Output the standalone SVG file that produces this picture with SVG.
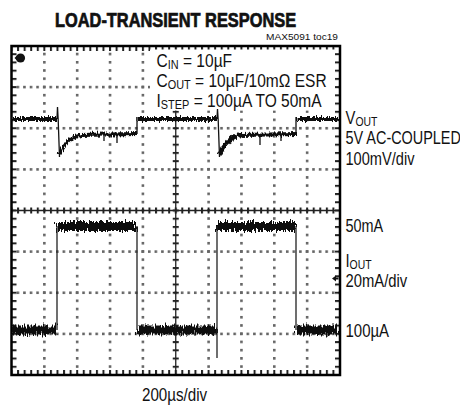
<svg xmlns="http://www.w3.org/2000/svg" width="460" height="406" viewBox="0 0 460 406">
<style>
.t{font-family:"Liberation Sans",Arial,sans-serif;fill:#111}
.lbl{font-size:18.5px}
.sub{font-size:13px}
.edge{stroke:#222;stroke-width:1.3;fill:none}
</style>
<defs>
<pattern id="dotH" patternUnits="userSpaceOnUse" x="10" y="0" width="6.57" height="406"><rect x="0" y="0" width="2.6" height="406" fill="#666"/></pattern>
<pattern id="dotV" patternUnits="userSpaceOnUse" x="0" y="44.5" width="460" height="8.225"><rect x="0" y="0" width="460" height="2.6" fill="#666"/></pattern>
<pattern id="tickH" patternUnits="userSpaceOnUse" x="10.5" y="0" width="6.57" height="406"><rect x="0" y="0" width="2" height="406" fill="#222"/></pattern>
<pattern id="tickV" patternUnits="userSpaceOnUse" x="0" y="45" width="460" height="8.225"><rect x="0" y="0" width="460" height="2" fill="#222"/></pattern>
<filter id="nzA" filterUnits="userSpaceOnUse" x="0" y="0" width="460" height="406">
<feTurbulence type="fractalNoise" baseFrequency="0.8 0.1" numOctaves="2" seed="3" result="t"/>
<feDisplacementMap in="SourceGraphic" in2="t" scale="6" xChannelSelector="B" yChannelSelector="G"/>
</filter>
<filter id="nzB" filterUnits="userSpaceOnUse" x="0" y="0" width="460" height="406">
<feTurbulence type="fractalNoise" baseFrequency="0.9 0.12" numOctaves="2" seed="7" result="t"/>
<feDisplacementMap in="SourceGraphic" in2="t" scale="10" xChannelSelector="B" yChannelSelector="G"/>
</filter>
</defs>
<rect width="460" height="406" fill="#fff"/>
<g id="title">
<text class="t" transform="translate(55,27) scale(0.84,1)" font-size="19.5" font-weight="bold" stroke="#111" stroke-width="0.7">LOAD-TRANSIENT RESPONSE</text>
<text class="t" x="338" y="40" font-size="9.5" text-anchor="end" textLength="72" lengthAdjust="spacingAndGlyphs" fill="#333">MAX5091 toc19</text>
</g>
<g id="grid">
<g fill="url(#dotH)">
<rect x="11.5" y="85.8" width="328.5" height="2.6"/>
<rect x="11.5" y="126.95" width="328.5" height="2.6"/>
<rect x="11.5" y="168.1" width="328.5" height="2.6"/>
<rect x="11.5" y="250.3" width="328.5" height="2.6"/>
<rect x="11.5" y="291.45" width="328.5" height="2.6"/>
<rect x="11.5" y="332.6" width="328.5" height="2.6"/>
</g>
<g fill="url(#dotV)">
<rect x="43.05" y="46" width="2.6" height="329"/>
<rect x="75.9" y="46" width="2.6" height="329"/>
<rect x="108.75" y="46" width="2.6" height="329"/>
<rect x="141.6" y="46" width="2.6" height="329"/>
<rect x="207.3" y="46" width="2.6" height="329"/>
<rect x="240.15" y="46" width="2.6" height="329"/>
<rect x="273" y="46" width="2.6" height="329"/>
<rect x="305.85" y="46" width="2.6" height="329"/>
</g>
<path d="M11.5,210.5H340M175.75,46V375" stroke="#222" stroke-width="1.3"/>
<rect x="11.5" y="207.5" width="328.5" height="6" fill="url(#tickH)"/>
<rect x="172.75" y="46" width="6" height="329" fill="url(#tickV)"/>
<rect x="11.5" y="46" width="328.5" height="5" fill="url(#tickH)"/>
<rect x="11.5" y="370" width="328.5" height="5" fill="url(#tickH)"/>
<rect x="11.5" y="46" width="5" height="329" fill="url(#tickV)"/>
<rect x="335" y="46" width="5" height="329" fill="url(#tickV)"/>
<rect x="150" y="49.5" width="185" height="61" fill="#fff"/>
<rect x="11.5" y="46" width="328.5" height="329" fill="none" stroke="#000" stroke-width="2.5"/>
</g>
<g id="markers">
<path d="M14.5,58 L17,55.5 L17,60.5 Z" fill="#111"/>
<circle cx="20.5" cy="58" r="4.6" fill="#111"/>
<text class="t" x="20.5" y="61.3" font-size="8.5" font-weight="bold" text-anchor="middle" fill="#fff">T</text>
<path d="M332,278.5 L336,275.5 V281.5 Z M335,277.5 H338.5 V279.5 H335 Z" fill="#111"/>
</g>
<g id="traces">
<path d="M12,119 H57 M59.5,154 C63,147 68,138 80,135 L137,134 M137.5,119 H217 M219.5,154 C223,147 228,138 240,135 L296,134 M296.5,119 H338" stroke="#111" stroke-width="4" fill="none" filter="url(#nzA)"/>
<path d="M57,119 L57.5,107 L58.2,120 L59.5,157 M137,134 V117 M217,119 L217.5,109 L218.2,120 L219.5,157 M296,134 V117 M117,134 V143 M104,134 V141 M260,134 V145 M281,134 V141" stroke="#111" stroke-width="1.3" fill="none"/>
<path d="M12,330 H57 M57,226.5 H137 M137,330 H217 M217,226.5 H296 M296,330 H338" stroke="#111" stroke-width="9" fill="none" filter="url(#nzB)"/>
<path class="edge" d="M57,330 V226 M137,226 V330 M217,358 V226 M296,226 V330"/>
</g>
<g id="legend">
<text class="t lbl" transform="translate(156.5,66.5) scale(0.84,1)">C<tspan class="sub" dy="2">IN</tspan><tspan dy="-2"> = 10µF</tspan></text>
<text class="t lbl" transform="translate(156.5,86.5) scale(0.84,1)">C<tspan class="sub" dy="2">OUT</tspan><tspan dy="-2"> = 10µF/10mΩ ESR</tspan></text>
<text class="t lbl" transform="translate(156.5,106.5) scale(0.84,1)">I<tspan class="sub" dy="2">STEP</tspan><tspan dy="-2"> = 100µA TO 50mA</tspan></text>
</g>
<g id="labels">
<text class="t lbl" transform="translate(345.5,123.5) scale(0.8,1)">V<tspan class="sub" dy="2">OUT</tspan></text>
<text class="t lbl" transform="translate(345.5,144) scale(0.78,1)">5V AC-COUPLED</text>
<text class="t lbl" transform="translate(345.5,164.5) scale(0.79,1)">100mV/div</text>
<text class="t lbl" transform="translate(345.5,232) scale(0.78,1)">50mA</text>
<text class="t lbl" transform="translate(345.5,267) scale(0.8,1)">I<tspan class="sub" dy="2">OUT</tspan></text>
<text class="t lbl" transform="translate(345.5,287) scale(0.8,1)">20mA/div</text>
<text class="t lbl" transform="translate(345.5,337) scale(0.81,1)">100µA</text>
<text class="t lbl" transform="translate(142,401) scale(0.82,1)">200µs/div</text>
</g>
</svg>
